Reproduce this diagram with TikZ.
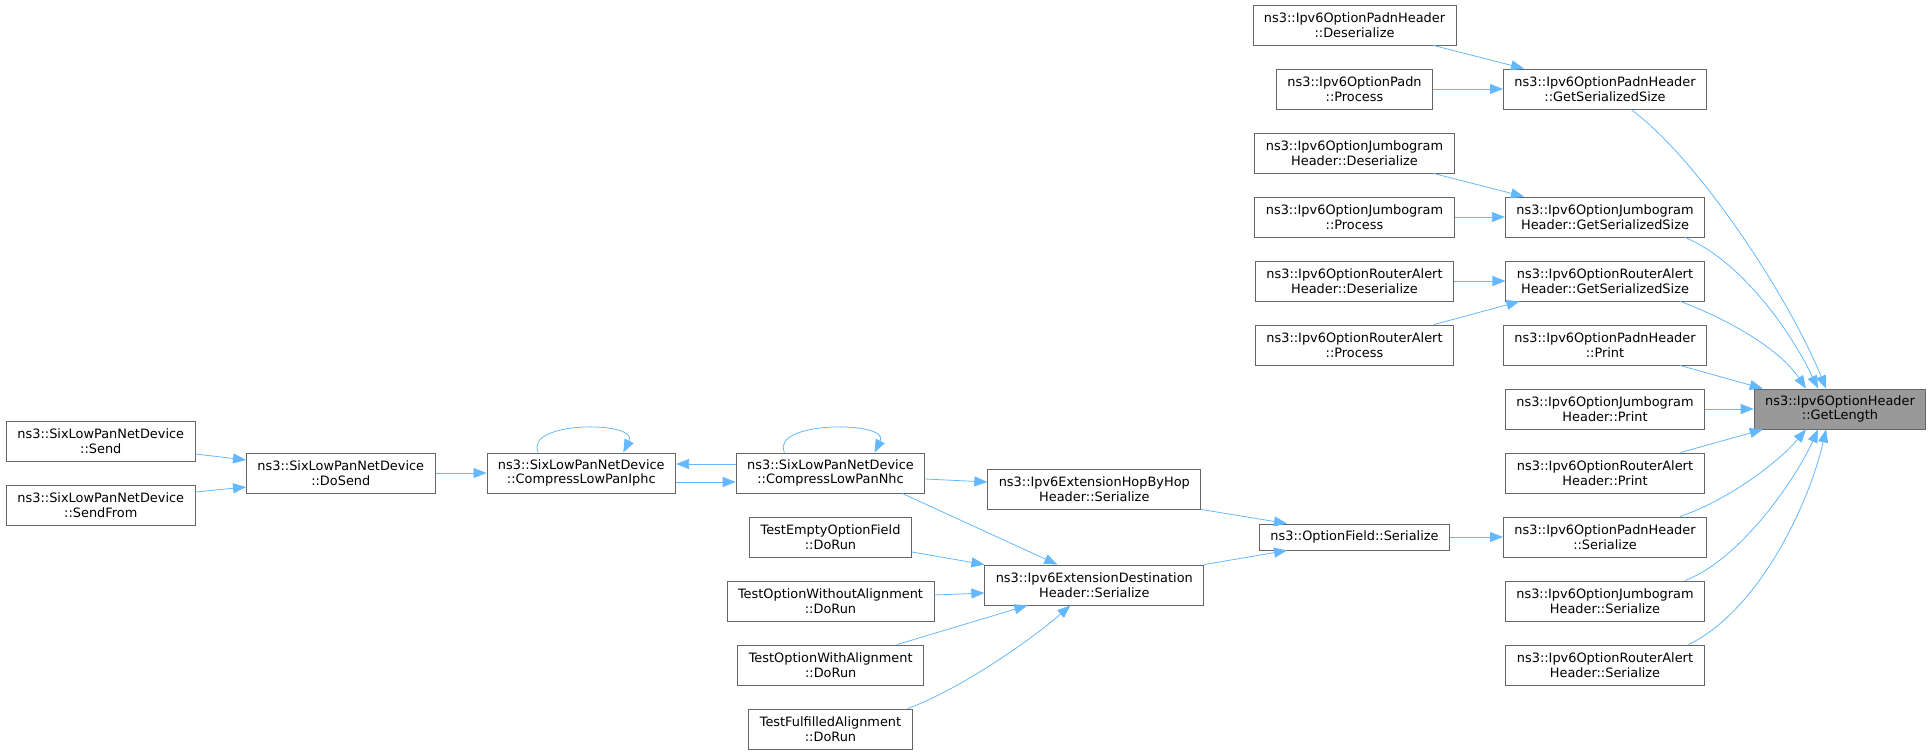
\documentclass[tikz,border=0pt]{standalone}
\usepackage{fontspec}
\setmainfont{DejaVu Sans}
\usepackage{tikz}
\usetikzlibrary{arrows.meta}
\definecolor{callblue}{HTML}{63B8FF}
\definecolor{boxgray}{HTML}{666666}
\definecolor{rootgray}{HTML}{999999}
\tikzset{
	% Two box styles for the call graph: plain caller and the grey root
	fn node/.style={draw=boxgray,fill=white,line width=0.9pt,align=center,inner xsep=11pt,inner ysep=0pt,minimum height=40pt},
	root node/.style={fn node,fill=rootgray},
	% Calls are drawn from caller to callee
	call/.style={draw=callblue,line width=0.8pt,-{Triangle[length=13pt,width=10pt]}}
}
\begin{document}
\begin{tikzpicture}[x=1pt,y=-1pt,font=\fontsize{12.9}{14.7}\selectfont]
			\useasboundingbox (0,0) rectangle (1931,755);
			% Right part: the option headers
			\node(getlen)[root node] at (1840,409) {ns3::Ipv6OptionHeader\\::GetLength};
			\node(pgss)[fn node] at (1605,89) {ns3::Ipv6OptionPadnHeader\\::GetSerializedSize};
			\node(jgss)[fn node] at (1605,217) {ns3::Ipv6OptionJumbogram\\Header::GetSerializedSize};
			\node(rgss)[fn node] at (1605,281) {ns3::Ipv6OptionRouterAlert\\Header::GetSerializedSize};
			\node(pprint)[fn node] at (1605,345) {ns3::Ipv6OptionPadnHeader\\::Print};
			\node(jprint)[fn node] at (1605,409) {ns3::Ipv6OptionJumbogram\\Header::Print};
			\node(rprint)[fn node] at (1605,473) {ns3::Ipv6OptionRouterAlert\\Header::Print};
			\node(pser)[fn node] at (1605,537) {ns3::Ipv6OptionPadnHeader\\::Serialize};
			\node(jser)[fn node] at (1605,601) {ns3::Ipv6OptionJumbogram\\Header::Serialize};
			\node(rser)[fn node] at (1605,665) {ns3::Ipv6OptionRouterAlert\\Header::Serialize};
			
			\node(pdeser)[fn node] at (1354.5,25) {ns3::Ipv6OptionPadnHeader\\::Deserialize};
			\node(pproc)[fn node] at (1354.5,89) {ns3::Ipv6OptionPadn\\::Process};
			\node(jdeser)[fn node] at (1354.5,153) {ns3::Ipv6OptionJumbogram\\Header::Deserialize};
			\node(jproc)[fn node] at (1354.5,217) {ns3::Ipv6OptionJumbogram\\::Process};
			\node(rdeser)[fn node] at (1354.5,281) {ns3::Ipv6OptionRouterAlert\\Header::Deserialize};
			\node(rproc)[fn node] at (1354.5,345) {ns3::Ipv6OptionRouterAlert\\::Process};
			\node(optser)[fn node,minimum height=26pt] at (1354.5,537) {ns3::OptionField::Serialize};
			
			% Middle part: extension headers and tests
			\node(hop)[fn node] at (1094.3,489) {ns3::Ipv6ExtensionHopByHop\\Header::Serialize};
			\node(dest)[fn node] at (1094.3,585) {ns3::Ipv6ExtensionDestination\\Header::Serialize};
			\node(nhc)[fn node] at (830.5,473) {ns3::SixLowPanNetDevice\\::CompressLowPanNhc};
			\node(tempty)[fn node] at (830.5,537) {TestEmptyOptionField\\::DoRun};
			\node(twithout)[fn node] at (830.5,601) {TestOptionWithoutAlignment\\::DoRun};
			\node(twith)[fn node] at (830.7,665) {TestOptionWithAlignment\\::DoRun};
			\node(tfull)[fn node] at (830.5,729) {TestFulfilledAlignment\\::DoRun};
			
			% Left part: the net device
			\node(iphc)[fn node] at (581.3,473) {ns3::SixLowPanNetDevice\\::CompressLowPanIphc};
			\node(dosend)[fn node] at (340.8,473) {ns3::SixLowPanNetDevice\\::DoSend};
			\node(send)[fn node] at (100.8,441) {ns3::SixLowPanNetDevice\\::Send};
			\node(sendfrom)[fn node] at (100.8,505) {ns3::SixLowPanNetDevice\\::SendFrom};
			
			% Calls into the serialized size getters
			\draw[call] ([xshift=-23pt]pdeser.south east) -- ([xshift=21pt]pgss.north west);
			\draw[call] (pproc) -- (pgss);
			\draw[call] ([xshift=-21pt]jdeser.south east) -- ([xshift=19pt]jgss.north west);
			\draw[call] (jproc) -- (jgss);
			\draw[call] (rdeser) -- (rgss);
			\draw[call] ([xshift=-20pt]rproc.north east) -- ([xshift=14pt]rgss.south west);
			
			% Calls into GetLength
			\draw[call] ([xshift=26pt]pgss.south) .. controls +(69,51) and +(-36,-89) .. ([xshift=-14pt]getlen.north);
			\draw[call] ([xshift=-20pt]jgss.south east) .. controls +(55,23) and +(-28,-59) .. ([xshift=-22pt]getlen.north);
			\draw[call] ([xshift=-24pt]rgss.south east) .. controls +(50,19) and +(-26,-39) .. ([xshift=-34pt]getlen.north);
			\draw[call] ([xshift=-27pt]pprint.south east) -- ([xshift=9pt]getlen.north west);
			\draw[call] (jprint) -- (getlen);
			\draw[call] ([xshift=-24pt]rprint.north east) -- ([xshift=9pt]getlen.south west);
			\draw[call] ([xshift=-27pt]pser.north east) .. controls +(50,-17) and +(-26,31) .. ([xshift=-34pt]getlen.south);
			\draw[call] ([xshift=-20pt]jser.north east) .. controls +(55,-21) and +(-23,51) .. ([xshift=-22pt]getlen.south);
			\draw[call] ([xshift=-16pt]rser.north east) .. controls +(72,-35) and +(-16,71) .. ([xshift=-14pt]getlen.south);
			
			% Serialize chain
			\draw[call] (optser) -- (pser);
			\draw[call] (hop.south east) -- ([xshift=28pt]optser.north west);
			\draw[call] (dest.north east) -- ([xshift=28pt]optser.south west);
			\draw[call] ([yshift=-6pt]nhc.east) -- ([yshift=7pt]hop.west);
			\draw[call] ([xshift=-23pt]nhc.south east) -- ([xshift=-37pt]dest.north);
			\draw[call] ([yshift=-15pt]tempty.east) -- (dest.north west);
			\draw[call] ([yshift=6pt]twithout.east) -- ([yshift=-8pt]dest.west);
			\draw[call] ([xshift=-27pt]twith.north east) -- ([xshift=43pt]dest.south west);
			\draw[call] ([xshift=-5pt]tfull.north east) .. controls +(52,-19) and +(-40,35) .. ([xshift=86pt]dest.south west);
			
			% Net device calls, with the two recursive ones
			\draw[call] ([xshift=-46pt]nhc.north) .. controls +(-15,-32) and +(16,-32) .. ([xshift=44pt]nhc.north);
			\draw[call] ([xshift=-43pt]iphc.north) .. controls +(-15,-32) and +(16,-32) .. ([xshift=42pt]iphc.north);
			\draw[call] ([yshift=-9pt]iphc.east) -- ([yshift=-9pt]nhc.west);
			\draw[call] ([yshift=9pt]nhc.west) -- ([yshift=9pt]iphc.east);
			\draw[call] (dosend) -- (iphc);
			\draw[call] ([yshift=-13pt]send.east) -- ([yshift=13pt]dosend.west);
			\draw[call] ([yshift=13pt]sendfrom.east) -- ([yshift=-14pt]dosend.west);
		\end{tikzpicture}
\end{document}
